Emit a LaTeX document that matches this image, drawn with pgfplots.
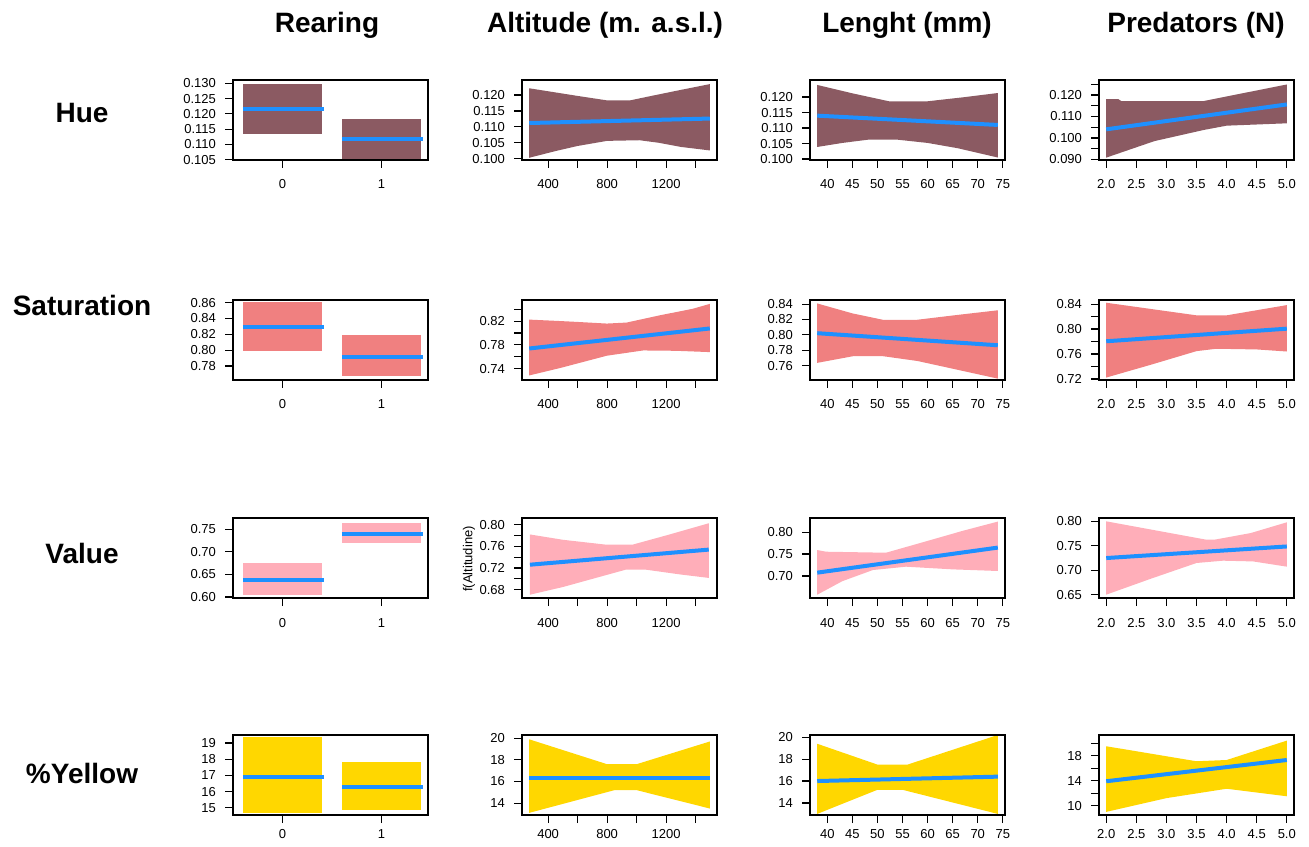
\documentclass[border=0pt]{standalone}
\usepackage{fontspec}
\setmainfont{Liberation Sans}
\usepackage{pgfplots}
\pgfplotsset{compat=1.18}
\definecolor{huec}{RGB}{139,90,98}
\definecolor{satc}{RGB}{240,128,128}
\definecolor{valc}{RGB}{255,174,185}
\definecolor{yelc}{RGB}{255,215,0}
\definecolor{linec}{RGB}{30,144,255}
\pgfplotsset{
  cell/.style={scale only axis, width=97.5pt, height=40pt, anchor=south west,
    axis line style={line width=0.6pt}, tick align=outside, major tick length=4pt,
    tick style={black, line width=0.6pt}, xtick pos=bottom, ytick pos=left,
    ticklabel style={font=\fontsize{6.5}{7}\selectfont},
    xticklabel style={anchor=base, yshift=-10.5pt}, yticklabel style={xshift=-1pt},
    axis on top, clip=true},
  lastrow/.style={xticklabel style={yshift=3pt}},
  band/.style={draw=none, fill=#1},
  fit/.style={linec, line width=2pt},
  catx/.style={xmin=-0.5, xmax=1.47, xtick={0,1}, xticklabels={0,1}},
  altx/.style={xmin=223, xmax=1545, xtick={400,600,800,1000,1200,1400}, xticklabels={400,,800,,1200,}},
  lenx/.style={xmin=36.56, xmax=75.44, xtick={40,45,50,55,60,65,70,75}, xticklabels={40,45,50,55,60,65,70,75}},
  prex/.style={xmin=1.88, xmax=5.12, xtick={2,2.5,3,3.5,4,4.5,5}, xticklabels={2.0,2.5,3.0,3.5,4.0,4.5,5.0}},
}
\begin{document}
\begin{tikzpicture}
\path[use as bounding box] (0,0) rectangle (654.5pt,423pt);
% column titles
\foreach \x/\t in {327/Rearing, 605/{Altitude (m. a.s.l.)}, 907/{Lenght (mm)}, 1196/{Predators (N)}}
  \node[font=\bfseries\fontsize{14}{16}\selectfont] at (\x*0.5pt, 410.5pt) {\t};
% row labels
\node[font=\bfseries\fontsize{14}{16}\selectfont] at (41pt, {(846-113)*0.5pt}) {Hue};
\node[font=\bfseries\fontsize{14}{16}\selectfont] at (41pt, {(846-305)*0.5pt}) {Saturation};
\node[font=\bfseries\fontsize{14}{16}\selectfont] at (41pt, {(846-553)*0.5pt}) {Value};
\node[font=\bfseries\fontsize{14}{16}\selectfont] at (41pt, {(846-773)*0.5pt}) {\%Yellow};
\node[rotate=90, font=\fontsize{6.5}{7}\selectfont] at (234.5pt, {(846-559)*0.5pt}) {f(Altitudine)};

% ================= HUE =================
\begin{axis}[cell, at={(116.5pt,343pt)}, catx, ymin=0.1049, ymax=0.1311,
  ytick={0.105,0.110,0.115,0.120,0.125,0.130}, yticklabels={0.105,0.110,0.115,0.120,0.125,0.130}]
\addplot[band=huec] coordinates {(-0.4,0.1134) (0.4,0.1134) (0.4,0.1298) (-0.4,0.1298)} -- cycle;
\addplot[band=huec] coordinates {(0.6,0.1053) (1.4,0.1053) (1.4,0.1183) (0.6,0.1183)} -- cycle;
\addplot[fit] coordinates {(-0.4,0.1217) (0.42,0.1217)};
\addplot[fit] coordinates {(0.6,0.1117) (1.42,0.1117)};
\end{axis}
\begin{axis}[cell, at={(261pt,343pt)}, altx, ymin=0.0996, ymax=0.1247,
  ytick={0.100,0.105,0.110,0.115,0.120}, yticklabels={0.100,0.105,0.110,0.115,0.120}]
\addplot[band=huec] coordinates {(272,0.1221) (450,0.1208) (600,0.1197) (800,0.1183) (955,0.1183) (1100,0.1197) (1300,0.1216) (1496,0.1234)
 (1496,0.1026) (1300,0.1037) (1150,0.1050) (1020,0.1058) (800,0.1056) (600,0.1040) (450,0.1024) (272,0.1003)} -- cycle;
\addplot[fit] coordinates {(272,0.1112) (1496,0.1126)};
\end{axis}
\begin{axis}[cell, at={(405pt,343pt)}, lenx, ymin=0.0997, ymax=0.1255,
  ytick={0.100,0.105,0.110,0.115,0.120}, yticklabels={0.100,0.105,0.110,0.115,0.120}]
\addplot[band=huec] coordinates {(38,0.1239) (45,0.1212) (52.4,0.1186) (59.8,0.1186) (67,0.1199) (74,0.1213)
 (74,0.1005) (66,0.1035) (60,0.1052) (53.7,0.1063) (48.4,0.1063) (43,0.1052) (38,0.1039)} -- cycle;
\addplot[fit] coordinates {(38,0.1140) (74,0.1110)};
\end{axis}
\begin{axis}[cell, at={(549.5pt,343pt)}, prex, ymin=0.0897, ymax=0.127,
  ytick={0.090,0.095,0.100,0.105,0.110,0.115,0.120,0.125}, yticklabels={0.090,,0.100,,0.110,,0.120,}]
\addplot[band=huec] coordinates {(2.0,0.1181) (2.2,0.1181) (2.25,0.1172) (3.62,0.1172) (4.3,0.1210) (5.0,0.1249)
 (5.0,0.1068) (4.0,0.1057) (3.62,0.1037) (2.8,0.0985) (2.0,0.0908)} -- cycle;
\addplot[fit] coordinates {(2.0,0.1040) (5.0,0.1156)};
\end{axis}

% ================= SATURATION =================
\begin{axis}[cell, at={(116.5pt,233pt)}, catx, ymin=0.7623, ymax=0.8634,
  ytick={0.78,0.80,0.82,0.84,0.86}, yticklabels={0.78,0.80,0.82,0.84,0.86}]
\addplot[band=satc] coordinates {(-0.4,0.7987) (0.4,0.7987) (0.4,0.8608) (-0.4,0.8608)} -- cycle;
\addplot[band=satc] coordinates {(0.6,0.7670) (1.4,0.7670) (1.4,0.8196) (0.6,0.8196)} -- cycle;
\addplot[fit] coordinates {(-0.4,0.8293) (0.42,0.8293)};
\addplot[fit] coordinates {(0.6,0.7918) (1.42,0.7918)};
\end{axis}
\begin{axis}[cell, at={(261pt,233pt)}, altx, ymin=0.7206, ymax=0.856,
  ytick={0.74,0.76,0.78,0.80,0.82,0.84}, yticklabels={0.74,,0.78,,0.82,}]
\addplot[band=satc] coordinates {(272,0.8228) (463,0.8206) (597,0.8189) (798,0.8161) (932,0.8178) (1156,0.8300) (1380,0.8411) (1496,0.8494)
 (1496,0.7678) (1268,0.7700) (1044,0.7706) (798,0.7617) (485,0.7411) (272,0.7283)} -- cycle;
\addplot[fit] coordinates {(272,0.7739) (1496,0.8078)};
\end{axis}
\begin{axis}[cell, at={(405pt,233pt)}, lenx, ymin=0.7413, ymax=0.8454,
  ytick={0.74,0.76,0.78,0.80,0.82,0.84}, yticklabels={0.74,0.76,0.78,0.80,0.82,0.84}]
\addplot[band=satc] coordinates {(38,0.8409) (45,0.8280) (51.2,0.8195) (57.7,0.8195) (66,0.8260) (74,0.8320)
 (74,0.7431) (65,0.7560) (58,0.7660) (51.2,0.7722) (45.1,0.7722) (38,0.7636)} -- cycle;
\addplot[fit] coordinates {(38,0.8022) (74,0.7865)};
\end{axis}
\begin{axis}[cell, at={(549.5pt,233pt)}, prex, ymin=0.7183, ymax=0.8466,
  ytick={0.72,0.74,0.76,0.78,0.80,0.82,0.84}, yticklabels={0.72,,0.76,,0.80,,0.84}]
\addplot[band=satc] coordinates {(2.0,0.8422) (3.5,0.8220) (4.0,0.8220) (5.0,0.8384)
 (5.0,0.7640) (4.5,0.7673) (3.83,0.7684) (3.5,0.7646) (2.75,0.7430) (2.0,0.7222)} -- cycle;
\addplot[fit] coordinates {(2.0,0.7804) (5.0,0.8006)};
\end{axis}

% ================= VALUE =================
\begin{axis}[cell, at={(116.5pt,124pt)}, catx, ymin=0.5978, ymax=0.7751,
  ytick={0.60,0.65,0.70,0.75}, yticklabels={0.60,0.65,0.70,0.75}]
\addplot[band=valc] coordinates {(-0.4,0.6051) (0.4,0.6051) (0.4,0.6754) (-0.4,0.6754)} -- cycle;
\addplot[band=valc] coordinates {(0.6,0.7198) (1.4,0.7198) (1.4,0.7643) (0.6,0.7643)} -- cycle;
\addplot[fit] coordinates {(-0.4,0.6388) (0.42,0.6388)};
\addplot[fit] coordinates {(0.6,0.7400) (1.42,0.7400)};
\end{axis}
\begin{axis}[cell, at={(261pt,124pt)}, altx, ymin=0.6648, ymax=0.8121,
  ytick={0.68,0.70,0.72,0.74,0.76,0.78,0.80}, yticklabels={0.68,,0.72,,0.76,,0.80}]
\addplot[band=valc] coordinates {(277,0.7818) (500,0.7720) (793,0.7630) (972,0.7630) (1200,0.7800) (1489,0.8024)
 (1489,0.7018) (1300,0.7080) (1062,0.7170) (927,0.7170) (700,0.7000) (500,0.6850) (277,0.6709)} -- cycle;
\addplot[fit] coordinates {(277,0.7261) (1489,0.7539)};
\end{axis}
\begin{axis}[cell, at={(405pt,124pt)}, lenx, ymin=0.6496, ymax=0.8323,
  ytick={0.70,0.75,0.80}, yticklabels={0.70,0.75,0.80}]
\addplot[band=valc] coordinates {(38,0.7591) (39.8,0.7553) (51.7,0.7530) (60,0.7800) (67,0.8030) (74,0.8241)
 (74,0.7113) (65,0.7150) (55.7,0.7211) (49.1,0.7135) (43,0.6880) (38,0.6571)} -- cycle;
\addplot[fit] coordinates {(38,0.7075) (74,0.7647)};
\end{axis}
\begin{axis}[cell, at={(549.5pt,124pt)}, prex, ymin=0.6432, ymax=0.8068,
  ytick={0.65,0.70,0.75,0.80}, yticklabels={0.65,0.70,0.75,0.80}]
\addplot[band=valc] coordinates {(2.0,0.8000) (3.66,0.7625) (3.8,0.7625) (4.4,0.7760) (5.0,0.7980)
 (5.0,0.7073) (4.44,0.7180) (3.94,0.7195) (3.5,0.7148) (2.75,0.6830) (2.0,0.6500)} -- cycle;
\addplot[fit] coordinates {(2.0,0.7249) (5.0,0.7486)};
\end{axis}

% ================= %YELLOW =================
\begin{axis}[cell, lastrow, at={(116.5pt,15.5pt)}, catx, ymin=14.56, ymax=19.5,
  ytick={15,16,17,18,19}, yticklabels={15,16,17,18,19}]
\addplot[band=yelc] coordinates {(-0.4,14.68) (0.4,14.68) (0.4,19.4) (-0.4,19.4)} -- cycle;
\addplot[band=yelc] coordinates {(0.6,14.9) (1.4,14.9) (1.4,17.85) (0.6,17.85)} -- cycle;
\addplot[fit] coordinates {(-0.4,16.9) (0.42,16.9)};
\addplot[fit] coordinates {(0.6,16.3) (1.42,16.3)};
\end{axis}
\begin{axis}[cell, lastrow, at={(261pt,15.5pt)}, altx, ymin=12.9, ymax=20.3,
  ytick={14,16,18,20}, yticklabels={14,16,18,20}]
\addplot[band=yelc] coordinates {(272,19.9) (800,17.6) (1000,17.6) (1496,19.7)
 (1496,13.5) (1000,15.2) (850,15.2) (272,13.1)} -- cycle;
\addplot[fit] coordinates {(272,16.3) (1496,16.3)};
\end{axis}
\begin{axis}[cell, lastrow, at={(405pt,15.5pt)}, lenx, ymin=12.9, ymax=20.2,
  ytick={14,16,18,20}, yticklabels={14,16,18,20}]
\addplot[band=yelc] coordinates {(38,19.4) (50,17.5) (56,17.5) (74,20.2)
 (74,13.0) (55,15.2) (50,15.2) (38,13.0)} -- cycle;
\addplot[fit] coordinates {(38,16.0) (74,16.4)};
\end{axis}
\begin{axis}[cell, lastrow, at={(549.5pt,15.5pt)}, prex, ymin=8.5, ymax=21.3,
  ytick={10,12,14,16,18,20}, yticklabels={10,,14,,18,}]
\addplot[band=yelc] coordinates {(2.0,19.5) (3.5,17.1) (4.0,17.3) (5.0,20.4)
 (5.0,11.5) (4.0,12.7) (3.0,11.2) (2.0,9.0)} -- cycle;
\addplot[fit] coordinates {(2.0,13.9) (5.0,17.3)};
\end{axis}
\end{tikzpicture}
\end{document}
